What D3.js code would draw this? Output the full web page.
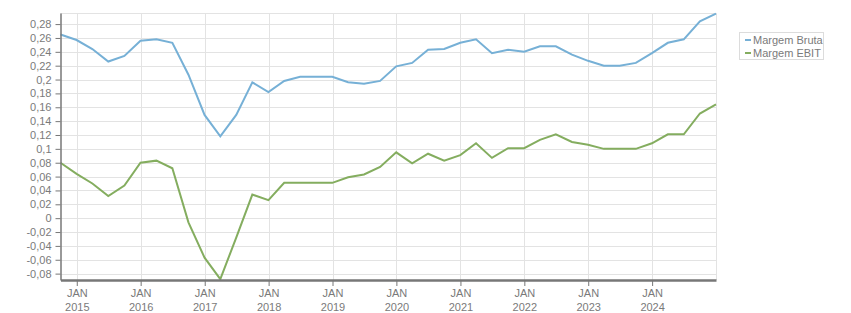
<!DOCTYPE html>
<html lang="pt">
<head>
<meta charset="utf-8">
<script src="https://cdnjs.cloudflare.com/ajax/libs/d3/7.8.5/d3.min.js"></script>
<style>
  body { margin: 0; background: #fff; }
  svg text { font-family: "Liberation Sans", Arial, sans-serif; font-size: 11px; fill: #7a7a7a; }
  .grid line { stroke: #e3e3e3; stroke-width: 1; }
  .axis path, .axis line { stroke: #777; }
</style>
</head>
<body>
<svg id="chart" width="851" height="313"></svg>
<script>
// quarter-end dates, Q3 2014 .. Q4 2024
const quarters = d3.range(0, 42).map(function(i) {
  return new Date(2014, 8 + 3 * i + 1, 0);
});

const margemBruta = [
  0.265, 0.257, 0.244, 0.226, 0.234, 0.256, 0.258, 0.253, 0.207, 0.149,
  0.118, 0.149, 0.196, 0.182, 0.198, 0.204, 0.204, 0.204, 0.196, 0.194,
  0.198, 0.219, 0.224, 0.243, 0.244, 0.253, 0.258, 0.238, 0.243, 0.240,
  0.248, 0.248, 0.236, 0.227, 0.220, 0.220, 0.224, 0.238, 0.253, 0.258,
  0.284, 0.295
];

const margemEbit = [
  0.080, 0.064, 0.050, 0.032, 0.047, 0.080, 0.083, 0.072, -0.006, -0.057,
  -0.088, -0.028, 0.034, 0.026, 0.051, 0.051, 0.051, 0.051, 0.059, 0.063,
  0.074, 0.095, 0.079, 0.093, 0.083, 0.091, 0.108, 0.087, 0.101, 0.101,
  0.113, 0.121, 0.110, 0.106, 0.100, 0.100, 0.100, 0.108, 0.121, 0.121,
  0.151, 0.164
];

const seriesNames = ["Margem Bruta", "Margem EBIT"];
const seriesColors = ["#76b0d6", "#84ad5f"];
const yTicks = d3.range(-4, 15).map(function(i) { return +(i * 0.02).toFixed(2); });
const xTicks = d3.range(2015, 2025).map(function(y) { return new Date(y, 0, 1); });

const plotLeft = 60.5, plotRight = 716, plotTop = 13, plotBottom = 280;

const x = d3.scaleTime()
  .domain([quarters[0], quarters[quarters.length - 1]])
  .range([plotLeft, plotRight]);
const y = d3.scaleLinear()
  .domain([-0.0892, 0.296])
  .range([plotBottom, plotTop]);

const svg = d3.select("#chart");

// grid
const grid = svg.append("g").attr("class", "grid");
grid.selectAll(".h").data(yTicks).enter().append("line")
  .attr("x1", plotLeft).attr("x2", plotRight)
  .attr("y1", function(d) { return Math.round(y(d)) + 0.5; })
  .attr("y2", function(d) { return Math.round(y(d)) + 0.5; });
grid.selectAll(".v").data(xTicks).enter().append("line")
  .attr("x1", function(d) { return Math.round(x(d)) + 0.5; })
  .attr("x2", function(d) { return Math.round(x(d)) + 0.5; })
  .attr("y1", plotTop).attr("y2", plotBottom);
grid.append("line").attr("x1", plotLeft).attr("x2", plotRight).attr("y1", plotTop + 0.5).attr("y2", plotTop + 0.5);
grid.append("line").attr("x1", plotRight + 0.5).attr("x2", plotRight + 0.5).attr("y1", plotTop).attr("y2", plotBottom);

// lines
const series = [margemBruta, margemEbit];
series.forEach(function(vals, i) {
  const line = d3.line()
    .x(function(d, j) { return x(quarters[j]); })
    .y(function(d) { return y(d); });
  svg.append("path")
    .datum(vals)
    .attr("fill", "none")
    .attr("stroke", seriesColors[i])
    .attr("stroke-width", 2)
    .attr("d", line);
});

// y axis
const yAxis = svg.append("g")
  .attr("class", "axis")
  .attr("transform", "translate(" + plotLeft + ",0)")
  .call(d3.axisLeft(y).tickValues(yTicks).tickSize(5).tickSizeOuter(0)
    .tickFormat(function(d) { return String(+d.toFixed(2)).replace(".", ","); }));
yAxis.select(".domain").attr("stroke-width", 1.5);
yAxis.selectAll("text").attr("dx", "-1").style("font-size", "11px");

// x axis
const xAxis = svg.append("g")
  .attr("class", "axis")
  .attr("transform", "translate(0," + plotBottom + ")")
  .call(d3.axisBottom(x).tickValues(xTicks).tickSize(6).tickSizeOuter(0).tickFormat(""));
xAxis.select(".domain").attr("stroke-width", 2.5);
xAxis.selectAll(".tick").each(function(d) {
  const t = d3.select(this);
  t.append("text").attr("y", 17).attr("text-anchor", "middle").text("JAN");
  t.append("text").attr("y", 31).attr("text-anchor", "middle").text(d.getFullYear());
});

// legend
const legend = svg.append("g");
legend.append("rect")
  .attr("x", 739.5).attr("y", 32.5).attr("width", 84).attr("height", 27)
  .attr("fill", "#fff").attr("stroke", "#dcdcdc");
seriesNames.forEach(function(name, i) {
  const ly = 40 + i * 13;
  legend.append("line")
    .attr("x1", 745).attr("x2", 751)
    .attr("y1", ly).attr("y2", ly)
    .attr("stroke", seriesColors[i]).attr("stroke-width", 2);
  legend.append("text")
    .attr("x", 753).attr("y", ly + 4)
    .style("font-size", "11px")
    .text(name);
});
</script>
</body>
</html>
